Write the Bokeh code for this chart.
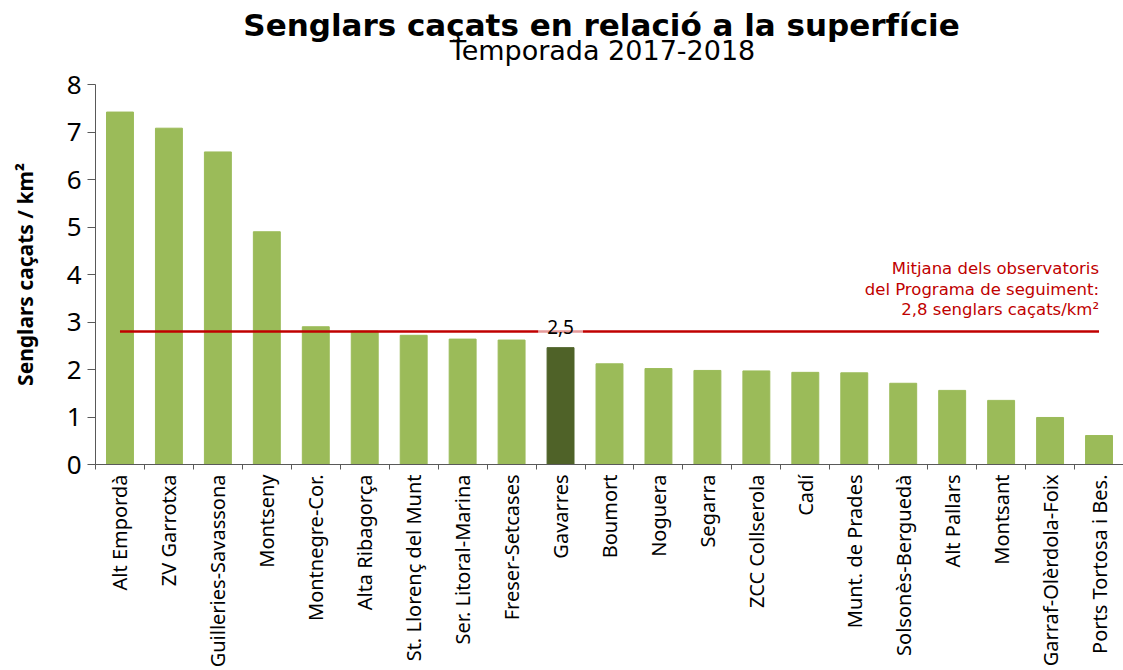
from math import pi
from bokeh.plotting import figure
from bokeh.layouts import column
from bokeh.models import (ColumnDataSource, Range1d, FixedTicker)
from bokeh.core.properties import value
from bokeh.embed import file_html
from bokeh.resources import INLINE

# ---------------- data ----------------
categories = ["Alt Empordà", "ZV Garrotxa", "Guilleries-Savassona", "Montseny",
              "Montnegre-Cor.", "Alta Ribagorça", "St. Llorenç del Munt",
              "Ser. Litoral-Marina", "Freser-Setcases", "Gavarres", "Boumort",
              "Noguera", "Segarra", "ZCC Collserola", "Cadí", "Munt. de Prades",
              "Solsonès-Berguedà", "Alt Pallars", "Montsant", "Garraf-Olèrdola-Foix",
              "Ports Tortosa i Bes."]
values = [7.42, 7.08, 6.58, 4.90, 2.90, 2.81, 2.72, 2.64, 2.62, 2.46, 2.12,
          2.02, 1.98, 1.97, 1.94, 1.93, 1.71, 1.56, 1.35, 0.99, 0.61]
highlight = "Gavarres"
average = 2.8
y_ticks = [0, 1, 2, 3, 4, 5, 6, 7, 8]
title_text = "Senglars caçats en relació a la superfície"
subtitle_text = "Temporada 2017-2018"
y_label_text = "Senglars caçats / km²"
avg_lines = ["Mitjana dels observatoris", "del Programa de seguiment:",
             "2,8 senglars caçats/km²"]

# ---------------- style ----------------
FONT = "Noto Sans"
TFONT = "DejaVu Sans"
GREEN = "#9BBB59"
DARK = "#4F6228"
RED = "#C00000"
AXIS = "#595959"
W = 1123
LEFT = 95
TOP_H = 66
MAIN_H = 670 - TOP_H

# ---------------- header (title + subtitle) ----------------
# its frame is aligned with the chart frame (LEFT..W), so x is in page pixels
head = figure(width=W, height=TOP_H, x_range=Range1d(LEFT, W), y_range=Range1d(0, TOP_H),
              output_backend="svg", toolbar_location=None, title=None,
              x_axis_location=None, y_axis_location=None,
              min_border_left=0, min_border_right=0,
              min_border_top=0, min_border_bottom=0)
head.outline_line_color = None
head.grid.visible = False
head.text(x=[601], y=[TOP_H - 38], text=[title_text], y_offset=-14,
          text_align="center", text_baseline="alphabetic",
          text_font=value(TFONT), text_font_size="31px", text_font_style="bold",
          text_color="black")
head.text(x=[602], y=[TOP_H - 62], text=[subtitle_text], y_offset=-12,
          text_align="center", text_baseline="alphabetic",
          text_font=value(TFONT), text_font_size="27px", text_color="black")

# ---------------- main chart ----------------
n = len(categories)
centers = [i + 0.5 for i in range(n)]      # slot centres on the x scale
bounds = list(range(n + 1))                 # slot boundaries (tick marks)
colors = [DARK if c == highlight else GREEN for c in categories]
src = ColumnDataSource(dict(x=centers, cat=categories, val=values, color=colors))

p = figure(width=W, height=MAIN_H,
           x_range=Range1d(0, n), y_range=Range1d(0, y_ticks[-1]),
           output_backend="svg", toolbar_location=None, title=None,
           min_border_left=LEFT, min_border_right=0,
           min_border_top=84 - TOP_H, min_border_bottom=202)
p.outline_line_color = None
p.grid.visible = False
p.background_fill_color = "white"
p.border_fill_color = "white"

# y axis
ya = p.yaxis[0]
ya.ticker = FixedTicker(ticks=y_ticks)
ya.major_tick_out = 8
ya.major_tick_in = 0
ya.minor_tick_out = 0
ya.minor_tick_in = 0
ya.axis_line_color = AXIS
ya.major_tick_line_color = AXIS
ya.major_label_text_font = FONT
ya.major_label_text_font_size = "26px"
ya.major_label_text_color = "black"
ya.major_label_standoff = 6
ya.axis_label = y_label_text
ya.axis_label_text_font = FONT
ya.axis_label_text_font_size = "21px"
ya.axis_label_text_font_style = "bold"
ya.axis_label_text_color = "black"
ya.axis_label_standoff = 25

# x axis: labels at slot centres, tick marks at slot boundaries
xa = p.xaxis[0]
xa.ticker = FixedTicker(ticks=centers, minor_ticks=bounds)
xa.major_label_overrides = {c: lab for c, lab in zip(centers, categories)}
xa.major_tick_out = 0
xa.major_tick_in = 0
xa.minor_tick_out = 5
xa.minor_tick_in = 0
xa.axis_line_color = AXIS
xa.minor_tick_line_color = AXIS
xa.major_label_orientation = pi / 2
xa.major_label_text_font = FONT
xa.major_label_text_font_size = "20px"
xa.major_label_text_color = "black"
xa.major_label_standoff = 5

# bars
p.vbar(x="x", top="val", width=0.55, color="color", source=src)

# average line
p.segment(x0=[centers[0]], x1=[centers[-1]], y0=[average], y1=[average],
          line_color=RED, line_width=2.5)

# highlighted value label
hi = categories.index(highlight)
hv = values[hi]
p.text(x=[centers[hi]], y=[average], text=[f"{hv:.1f}".replace(".", ",")],
       text_align="center", text_baseline="alphabetic", y_offset=-5,
       text_font=value(FONT), text_font_size="19px", text_color="black",
       background_fill_color="white", background_fill_alpha=0.6,
       padding=(9, 2))

# average annotation
p.text(x=[centers[-1]], y=[average], text=["\n".join(avg_lines)],
       text_align="right", text_baseline="bottom", y_offset=-12, x_offset=0,
       text_font=value(TFONT), text_font_size="16.5px", text_color=RED,
       text_line_height=1.1)

layout = column(head, p, spacing=0)
open("out.html", "w").write(file_html(layout, INLINE))
